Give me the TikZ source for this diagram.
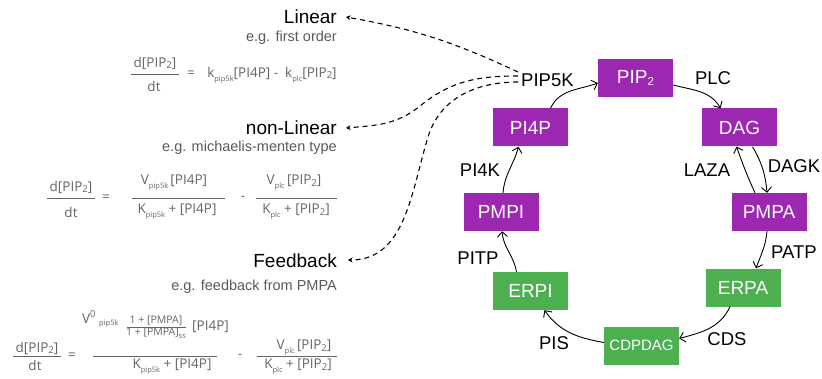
\documentclass[tikz,border=0pt]{standalone}
\usepackage{fontspec}
\setmainfont{Liberation Sans}
\newfontfamily\eqfont{Open Sans}
\usetikzlibrary{arrows.meta,calc}
\definecolor{pur}{RGB}{156,39,176}
\definecolor{grn}{RGB}{76,175,80}
\definecolor{eqg}{RGB}{100,100,100}
\definecolor{egg}{RGB}{90,90,90}
\newcommand{\lo}[1]{\raisebox{-0.55ex}{\fontsize{7.5}{8}\selectfont #1}}
\newcommand{\ptwo}{\raisebox{-0.15ex}{\fontsize{9.5}{10}\selectfont 2}}
\newcommand{\btwo}{\raisebox{-0.2ex}{\fontsize{11.5}{12}\selectfont 2}}
\tikzset{
 box/.style={minimum width=75pt, minimum height=38pt, inner sep=0pt, text=white, font=\fontsize{19}{20}\selectfont},
 pbox/.style={box, fill=pur},
 gbox/.style={box, fill=grn},
 rxn/.style={-{Straight Barb[length=5pt,width=10pt]}, line width=0.9pt},
 enz/.style={font=\fontsize{18.5}{20}\selectfont, inner sep=0pt},
 model/.style={dash pattern=on 5pt off 4pt, line width=1.1pt, -{Stealth[length=4.5pt,width=5pt]}},
 ttl/.style={anchor=east, font=\fontsize{19}{20}\selectfont, inner sep=0pt},
 eg/.style={anchor=east, text=egg, font=\fontsize{14.5}{16}\selectfont, inner sep=0pt},
 eq/.style={text=eqg, font=\eqfont\fontsize{13.5}{15}\selectfont, inner sep=0pt},
 eqs/.style={text=eqg, font=\eqfont\fontsize{10.5}{11}\selectfont, inner sep=0pt},
 bar/.style={draw=eqg, line width=0.9pt},
}
\begin{document}
\begin{tikzpicture}[x=1pt,y=1pt]
\useasboundingbox (0,0) rectangle (822,378);
% cycle nodes
\node[pbox] (pip2) at (635.5,300) {PIP\btwo};
\node[pbox] (dag) at (739.5,250.5) {DAG};
\node[pbox] (pi4p) at (530.5,250.5) {PI4P};
\node[pbox] (pmpi) at (501,166) {PMPI};
\node[pbox] (pmpa) at (769,166) {PMPA};
\node[gbox] (erpi) at (530.5,87) {ERPI};
\node[gbox] (erpa) at (743,90.5) {ERPA};
\node[gbox, font=\fontsize{15}{16}\selectfont] (cdpdag) at (641.5,32.5) {CDPDAG};
% enzyme labels
\node[enz, anchor=west] (pip5k) at (521,298) {PIP5K};
\node[enz] (plc) at (713,300) {PLC};
\node[enz] (pi4k) at (480,208) {PI4K};
\node[enz] (laza) at (707,208) {LAZA};
\node[enz] (dagk) at (794,212) {DAGK};
\node[enz] (pitp) at (478,120) {PITP};
\node[enz] (patp) at (794,126) {PATP};
\node[enz] (pis) at (554,35) {PIS};
\node[enz] (cds) at (727,39) {CDS};
% reactions
\draw[rxn] ($(pi4p.north)+(20,0)$) to[out=65,in=200] ($(pip2.west)+(0,-5)$);
\draw[rxn] ($(pip2.east)+(0,-7)$) to[out=-15,in=120] ($(dag.north)+(-19,0)$);
\draw[rxn] ($(dag.south)+(13,0)$) to[out=-60,in=95] ($(pmpa.north)+(-2,0)$);
\draw[rxn] ($(pmpa.north)+(-14,0)$) to[out=115,in=-70] ($(dag.south)+(-3,0)$);
\draw[rxn] ($(pmpa.south)+(-2,0)$) to[out=-95,in=70] ($(erpa.north)+(13,0)$);
\draw[rxn] ($(erpa.south)+(-13,0)$) to[out=-115,in=15] ($(cdpdag.east)+(0,7)$);
\draw[rxn] ($(cdpdag.west)+(0,3)$) to[out=170,in=-55] ($(erpi.south)+(14,0)$);
\draw[rxn] ($(erpi.north)+(-14,0)$) to[out=100,in=-85] ($(pmpi.south)+(1,0)$);
\draw[rxn] ($(pmpi.north)+(2,0)$) to[out=85,in=-105] ($(pi4p.south)+(-12,0)$);
% model titles
\node[ttl] (lin) at (337,361) {Linear};
\node[eg] at (337,340) {e.g. first order};
\node[ttl] (nlin) at (337,250) {non-Linear};
\node[eg] at (337,230) {e.g. michaelis-menten type};
\node[ttl] (fb) at (337,117) {Feedback};
\node[eg] at (337,91) {e.g. feedback from PMPA};
% dashed model links
\draw[model] ($(pip5k.west)+(-3,8)$) to[out=155,in=-10] ($(lin.east)+(9,0)$);
\draw[model] ($(pip5k.west)+(-3,4)$) to[out=180,in=39] (420,272) to[out=219,in=5] ($(nlin.east)+(9,0)$);
\draw[model] ($(pip5k.west)+(-3,-2)$) to[out=180,in=73] (428,241) to[out=253,in=0] ($(fb.east)+(11,1)$);
% equation 1
\node[eq] at (155,315) {d[PIP\ptwo]};
\node[eq] at (154,292) {dt};
\draw[bar] (131,304) -- (179,304);
\node[eq] at (191,304) {=};
\node[eq] at (272,303) {k\lo{pip5k}[PI4P] -\ \ k\lo{plc}[PIP\ptwo]};
% equation 2
\node[eq] at (71,191) {d[PIP\ptwo]};
\node[eq] at (71,166) {dt};
\draw[bar] (47,180) -- (95,180);
\node[eq] at (106,180) {=};
\node[eq] at (174,195) {V\lo{pip5k}\,[PI4P]};
\node[eq] at (177,166) {K\lo{pip5k} + [PI4P]};
\draw[bar] (132,180) -- (225,180);
\node[eq] at (243,180) {-};
\node[eq] at (294,195) {V\lo{plc}\,[PIP\ptwo]};
\node[eq] at (296,166) {K\lo{plc} + [PIP\ptwo]};
\draw[bar] (256,180) -- (337,180);
% equation 3
\node[eq] at (37,30) {d[PIP\ptwo]};
\node[eq] at (35,13) {dt};
\draw[bar] (13,22) -- (61,22);
\node[eq] at (72,22) {=};
\node[eq,anchor=west] at (82,61) {V\textsuperscript{0}};
\node[eq,anchor=west,font=\eqfont\fontsize{7.5}{8}\selectfont] at (99,54) {pip5k};
\node[eqs] at (156,57) {1 + [PMPA]};
\draw[bar, line width=0.7pt] (127,51) -- (186,51);
\node[eqs] at (156,45) {1 + [PMPA]\lo{ss}};
\node[eq,anchor=west] at (192,51) {[PI4P]};
\draw[bar] (93,22) -- (217,22);
\node[eq] at (172,11) {K\lo{pip5k} + [PI4P]};
\node[eq] at (240,22) {-};
\node[eq] at (304,30) {V\lo{plc}\,[PIP\ptwo]};
\node[eq] at (298,11) {K\lo{plc} + [PIP\ptwo]};
\draw[bar] (257,22) -- (337,22);
\end{tikzpicture}
\end{document}
